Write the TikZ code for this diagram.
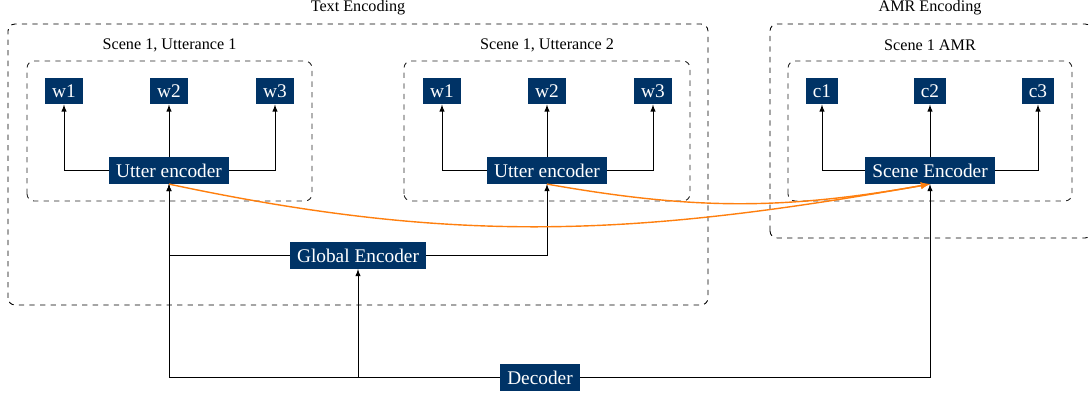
\documentclass[tikz,border=0pt]{standalone}
\usepackage{fontspec}
\setmainfont{Liberation Serif}
\usepackage{tikz}
\definecolor{navy}{HTML}{003366}
\definecolor{amber}{HTML}{FF7F0E}
\tikzset{enc/.style={fill=navy,text=white,inner xsep=4pt,inner ysep=0pt,minimum height=0.53cm,font=\fontsize{11}{13}\selectfont}}
\tikzset{grp/.style={dashed,rounded corners=4pt,black!85,line width=0.5pt}}
\tikzset{ttl/.style={font=\fontsize{9.2}{11}\selectfont}}
\tikzset{flow/.style={amber,thick,->}}

\begin{document}
\begin{tikzpicture}[>=latex, thin]
    \useasboundingbox (0,0) rectangle (21.78,7.88);

    % group frames
    \draw [grp, black] (0.16,1.78) rectangle (14.16,7.40);
    \draw [grp, black] (15.40,3.12) rectangle (21.84,7.40);
    \draw [grp] (0.54,3.86) rectangle (6.24,6.66);
    \draw [grp] (8.08,3.86) rectangle (13.80,6.66);
    \draw [grp] (15.76,3.86) rectangle (21.44,6.66);

    \node [ttl] (ttext) at (7.16,7.72) {Text Encoding};
    \node [ttl] (tamr) at (18.60,7.72) {AMR Encoding};
    \node [ttl] (tu1) at (3.39,6.97) {Scene 1, Utterance 1};
    \node [ttl] (tu2) at (10.94,6.97) {Scene 1, Utterance 2};
    \node [ttl] (ts1) at (18.60,6.97) {Scene 1 AMR};

    % encoders
    \node [enc] (utt1) at (3.38,4.47) {Utter encoder};
    \node [enc] (utt2) at (10.94,4.47) {Utter encoder};
    \node [enc] (scene) at (18.60,4.47) {Scene Encoder};
    \node [enc] (global) at (7.16,2.77) {Global Encoder};
    \node [enc] (decoder) at (10.80,0.33) {Decoder};

    % tokens
    \foreach \n/\x in {1/1.28, 2/3.38, 3/5.50} {
        \node [enc] (wa\n) at (\x,6.06) {w\n};
    }
    \foreach \n/\x in {1/8.84, 2/10.94, 3/13.06} {
        \node [enc] (wb\n) at (\x,6.06) {w\n};
    }
    \foreach \n/\x in {1/16.44, 2/18.60, 3/20.76} {
        \node [enc] (c\n) at (\x,6.06) {c\n};
    }

    \draw [->] (utt1.west) -| (wa1.south);
    \draw [->] (utt1.north) -- (wa2.south);
    \draw [->] (utt1.east) -| (wa3.south);
    \draw [->] (utt2.west) -| (wb1.south);
    \draw [->] (utt2.north) -- (wb2.south);
    \draw [->] (utt2.east) -| (wb3.south);
    \draw [->] (scene.west) -| (c1.south);
    \draw [->] (scene.north) -- (c2.south);
    \draw [->] (scene.east) -| (c3.south);

    \draw [->] (global.west) -| (utt1.south);
    \draw [->] (global.east) -| (utt2.south);
    \draw [->] (decoder.west) -| (utt1.south);
    \draw [->] (global |- decoder) -- (global.south);
    \draw [->] (decoder.east) -| (scene.south);

    \draw [flow] (utt1.south) to [out=-12,in=190] (scene.south);
    \draw [flow] (utt2.south) to [out=-10,in=190] (scene.south);

\end{tikzpicture}
\end{document}
